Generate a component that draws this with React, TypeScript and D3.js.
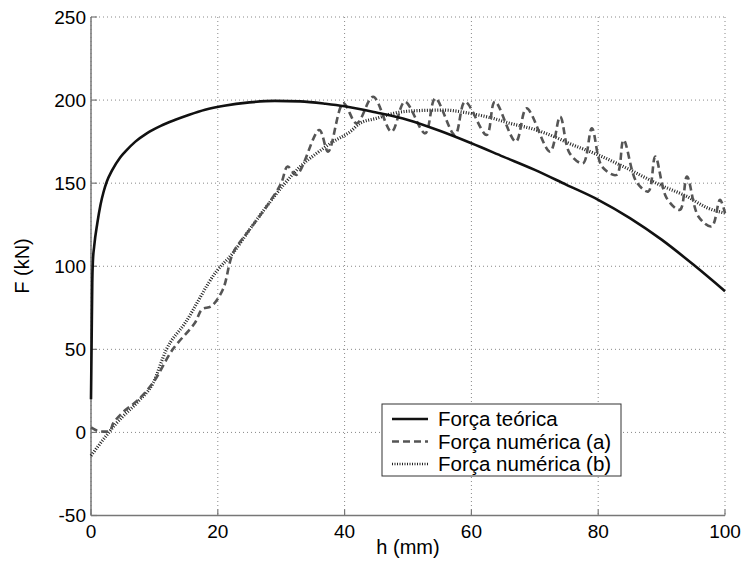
import React from "react";
import * as d3 from "d3";

const theoH = [0, 0.1, 0.2, 0.3, 0.5, 1, 1.5, 2, 2.5, 3.3, 4.6, 5.4, 7, 8.8, 11, 13.2, 15.5, 18, 21, 25, 29, 33, 37, 40, 45, 50, 55, 60, 65, 70, 75, 80, 85, 90, 95, 100];
const theoF = [20, 55, 90, 103, 112, 126, 137, 145, 151, 157.5, 165.5, 169, 175, 180, 184.5, 188, 191.2, 194.2, 196.6, 198.6, 199.5, 199.2, 197.8, 196.3, 192.5, 188, 181.5, 174, 166, 158, 149, 140, 129, 116, 101, 85];

const numAH = [0, 1, 2, 3, 3.5, 5, 7.4, 9.8, 12.9, 16.4, 17.5, 19, 20.8, 22.4, 25, 27.7, 30, 31, 32.4, 36, 37.4, 39.8, 41.9, 44.5, 47.4, 49.5, 52.7, 54.3, 57.4, 59, 62.4, 63.7, 67, 68.7, 72.4, 74, 75.5, 77.6, 79, 80.6, 82.9, 84, 86, 87.9, 89, 90.8, 92.9, 94, 95.8, 97.9, 99.2, 100];
const numAF = [3, 1, 0.5, 1, 5.5, 12, 19.5, 30, 50, 66, 74, 76, 86, 108, 122, 136, 150, 160, 155, 182, 169, 198, 186, 202, 181, 199, 180, 201, 179, 199, 179, 199, 175, 195, 169, 190, 168, 162, 183, 160, 155, 176, 151, 145, 166, 141, 134, 154, 130, 124, 140, 132];

const numBH = [0, 2.5, 4, 7.4, 9.8, 11.9, 14.8, 19.8, 22.4, 25, 27.7, 30.6, 33, 35.6, 38.2, 40.9, 42.4, 45, 47.7, 50.3, 55.6, 59.8, 63.4, 66.1, 69.7, 72.4, 76, 80, 84.5, 89.7, 94, 97.3, 100];
const numBF = [-14, -1.5, 5.5, 18.5, 29.7, 50, 65.6, 97, 108, 122, 136, 150, 160, 168, 175, 181, 186, 189, 192, 193.4, 194, 192, 189, 186, 182.6, 179, 173, 167, 159, 149, 142, 135, 132];

const xTicks = [0, 20, 40, 60, 80, 100];
const yTicks = [-50, 0, 50, 100, 150, 200, 250];
const legendLabels = ["Força teórica", "Força numérica (a)", "Força numérica (b)"];

const W = 742, H = 572;
const L = 91, R = 725, T = 17, B = 515.5;
const FONT = "'Liberation Sans', Arial, sans-serif";

export default function App() {
  const x = d3.scaleLinear().domain([0, 100]).range([L, R]);
  const y = d3.scaleLinear().domain([-50, 250]).range([B, T]);
  const mk = (hs: number[], fs: number[], curve: any) =>
    d3.line<number>().x((_, i) => x(hs[i])).y((_, i) => y(fs[i])).curve(curve)(hs) || "";
  const theoPath = mk(theoH, theoF, d3.curveMonotoneX);
  const aPath = mk(numAH, numAF, d3.curveCatmullRom.alpha(0.5));
  const bPath = mk(numBH, numBF, d3.curveMonotoneX);

  const styles = [
    { stroke: "#111", width: 2.6, dash: undefined as string | undefined },
    { stroke: "#555", width: 2.6, dash: "7,4" },
    { stroke: "#222", width: 3.2, dash: "1,1.6" },
  ];
  const legX = 382, legY = 404, legW = 239, legH = 72;
  const rowY = [419, 441.5, 464];

  return (
    <svg width={W} height={H} style={{ position: "absolute", left: 0, top: 0, background: "#fff" }} fontFamily={FONT}>
      <rect x={0} y={0} width={W} height={H} fill="#fff" />
      {xTicks.map((t) => (
        <line key={"gx" + t} x1={x(t)} x2={x(t)} y1={T} y2={B} stroke="#888" strokeWidth={1} strokeDasharray="1,3" />
      ))}
      {yTicks.map((t) => (
        <line key={"gy" + t} x1={L} x2={R} y1={y(t)} y2={y(t)} stroke="#888" strokeWidth={1} strokeDasharray="1,3" />
      ))}
      <line x1={L} x2={L} y1={T} y2={B} stroke="#777" strokeWidth={1.5} />
      <line x1={L} x2={R} y1={B} y2={B} stroke="#777" strokeWidth={1.5} />
      {xTicks.map((t) => (
        <g key={"tx" + t}>
          <line x1={x(t)} x2={x(t)} y1={B} y2={B - 6} stroke="#777" strokeWidth={1.2} />
          <text x={x(t)} y={538} textAnchor="middle" fontSize={19} fill="#000">{t}</text>
        </g>
      ))}
      {yTicks.map((t) => (
        <g key={"ty" + t}>
          <line x1={L} x2={L + 6} y1={y(t)} y2={y(t)} stroke="#777" strokeWidth={1.2} />
          <text x={86} y={y(t) + 6.8} textAnchor="end" fontSize={19} fill="#000">{t}</text>
        </g>
      ))}
      <text x={408} y={554} textAnchor="middle" fontSize={20} fill="#000">h (mm)</text>
      <text transform={`translate(29,266) rotate(-90)`} textAnchor="middle" fontSize={20} fill="#000">F (kN)</text>
      <path d={bPath} fill="none" stroke={styles[2].stroke} strokeWidth={styles[2].width} strokeDasharray={styles[2].dash} />
      <path d={aPath} fill="none" stroke={styles[1].stroke} strokeWidth={styles[1].width} strokeDasharray={styles[1].dash} />
      <path d={theoPath} fill="none" stroke={styles[0].stroke} strokeWidth={styles[0].width} />
      <rect x={legX} y={legY} width={legW} height={legH} fill="#fff" stroke="#333" strokeWidth={1} />
      {legendLabels.map((lab, i) => (
        <g key={lab}>
          <line x1={392} x2={428} y1={rowY[i]} y2={rowY[i]} stroke={styles[i].stroke}
            strokeWidth={i === 2 ? 2.5 : 2.4} strokeDasharray={i === 2 ? "1,1.5" : styles[i].dash} />
          <text x={438} y={rowY[i] + 7} fontSize={20.5} fill="#000">{lab}</text>
        </g>
      ))}
    </svg>
  );
}
